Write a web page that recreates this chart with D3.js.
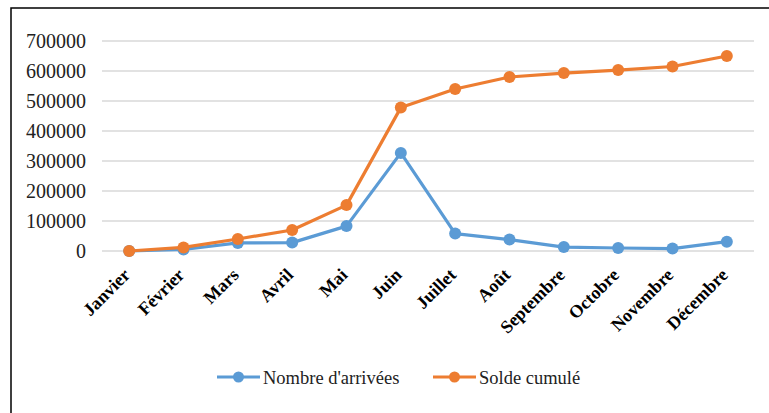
<!DOCTYPE html>
<html>
<head>
<meta charset="utf-8">
<script src="https://cdn.jsdelivr.net/npm/d3@7"></script>
<style>
  body { margin: 0; background: #fff; }
  svg { display: block; }
  text { font-family: "Liberation Serif", "Times New Roman", Times, serif; }
</style>
</head>
<body>
<div id="chart"></div>
<script>
// months on the x axis
const months = ["Janvier", "Février", "Mars", "Avril", "Mai", "Juin",
    "Juillet", "Août", "Septembre", "Octobre", "Novembre", "Décembre"];

// series values
const arrivees = [0, 5000, 27000, 28000, 83000, 327000, 58000, 38000, 13000, 10000, 8000, 31000];
const solde = [0, 12000, 40000, 70000, 153000, 478000, 540000, 580000, 593000, 603000, 615000, 650000];

const yTicks = [0, 100000, 200000, 300000, 400000, 500000, 600000, 700000];

const seriesNames = ["Nombre d'arrivées", "Solde cumulé"];
const colors = ["#5b9bd5", "#ed7d31"];

var width = 769;
var height = 413;

const svg = d3.select("#chart")
    .append("svg")
    .attr("width", width)
    .attr("height", height);

// outer frame (cut off on the right and bottom)
svg.append("rect")
    .attr("x", 11)
    .attr("y", 8)
    .attr("width", 800)
    .attr("height", 450)
    .attr("fill", "none")
    .attr("stroke", "#000")
    .attr("stroke-width", 1.5);

var x = d3.scalePoint()
    .domain(months)
    .range([102, 754])
    .padding(0.5);

var y = d3.scaleLinear()
    .domain([0, 700000])
    .range([251, 41]);

// grid lines
svg.append("g")
    .selectAll("line")
    .data(yTicks)
    .enter()
    .append("line")
    .attr("x1", 102)
    .attr("x2", 754)
    .attr("y1", d => y(d))
    .attr("y2", d => y(d))
    .attr("stroke", "#d9d9d9")
    .attr("stroke-width", 1.5);

// y tick labels
svg.append("g")
    .selectAll("text")
    .data(yTicks)
    .enter()
    .append("text")
    .attr("x", 86)
    .attr("y", d => y(d))
    .attr("dy", "0.35em")
    .attr("text-anchor", "end")
    .attr("font-size", 20)
    .attr("fill", "#222")
    .text(d => d);

// x labels, rotated 45 degrees
svg.append("g")
    .selectAll("text")
    .data(months)
    .enter()
    .append("text")
    .attr("transform", d => "translate(" + (x(d) + 2) + ",276) rotate(-45)")
    .attr("text-anchor", "end")
    .attr("font-weight", "bold")
    .attr("font-size", 18)
    .attr("fill", "#000")
    .text(d => d);

let line = d3.line()
    .x((d, i) => x(months[i]))
    .y(d => y(d));

[arrivees, solde].forEach((values, k) => {
    let g = svg.append("g");
    g.append("path")
        .attr("d", line(values))
        .attr("fill", "none")
        .attr("stroke", colors[k])
        .attr("stroke-width", 3.2)
        .attr("stroke-linejoin", "round");
    g.selectAll("circle")
        .data(values)
        .enter()
        .append("circle")
        .attr("cx", (d, i) => x(months[i]))
        .attr("cy", d => y(d))
        .attr("r", 6)
        .attr("fill", colors[k]);
});

// legend
const legendX = [217, 433];
seriesNames.forEach((name, k) => {
    let g = svg.append("g").attr("transform", "translate(" + legendX[k] + ",377)");
    g.append("line")
        .attr("x1", 0)
        .attr("x2", 43)
        .attr("stroke", colors[k])
        .attr("stroke-width", 3.2);
    g.append("circle")
        .attr("cx", 21.5)
        .attr("r", 5.5)
        .attr("fill", colors[k]);
    g.append("text")
        .attr("x", 46)
        .attr("dy", "0.4em")
        .attr("font-size", 18.5)
        .attr("fill", "#222")
        .text(name);
});
</script>
</body>
</html>
